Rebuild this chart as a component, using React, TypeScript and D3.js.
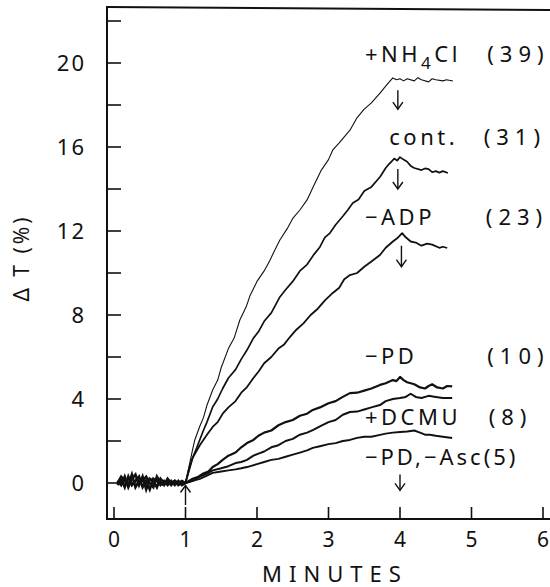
import React, { useEffect, useRef } from 'react';
import * as d3 from 'd3';

type Pt = [number, number];

// minutes, delta T (%)
const nh4cl: Pt[] = [
  [1.0, 0], [1.05, 0.8], [1.1, 1.6], [1.13, 2.05], [1.2, 2.7], [1.25, 3.1], [1.3, 3.7], [1.38, 4.43],
  [1.45, 4.9], [1.5, 5.5], [1.6, 6.4], [1.68, 6.9], [1.76, 7.76], [1.85, 8.4], [1.9, 8.9], [2.0, 9.6],
  [2.1, 10.1], [2.18, 10.6], [2.25, 11.1], [2.32, 11.57], [2.42, 12.1], [2.5, 12.6], [2.6, 13.0],
  [2.7, 13.48], [2.8, 14.2], [2.9, 14.9], [3.0, 15.4], [3.06, 15.86], [3.15, 16.2], [3.2, 16.4],
  [3.3, 16.8], [3.4, 17.4], [3.5, 17.8], [3.6, 18.1], [3.72, 18.57], [3.8, 18.9], [3.85, 19.1],
  [3.9, 19.29], [3.95, 19.2], [4.0, 19.25], [4.05, 19.15], [4.1, 19.25], [4.2, 19.15], [4.25, 19.3],
  [4.3, 19.2], [4.4, 19.1], [4.45, 19.25], [4.5, 19.2], [4.6, 19.15], [4.65, 19.2], [4.74, 19.14],
];
const control: Pt[] = [
  [1.0, 0], [1.05, 0.7], [1.1, 1.2], [1.16, 1.7], [1.25, 2.5], [1.3, 2.9], [1.38, 3.62], [1.45, 4.0],
  [1.52, 4.5], [1.6, 5.0], [1.7, 5.4], [1.78, 5.9], [1.86, 6.33], [1.95, 6.9], [2.02, 7.2], [2.1, 7.7],
  [2.2, 8.1], [2.32, 8.86], [2.4, 9.2], [2.5, 9.6], [2.6, 10.1], [2.7, 10.4], [2.8, 10.9], [2.88, 11.24],
  [2.95, 11.7], [3.02, 11.9], [3.1, 12.3], [3.2, 12.7], [3.27, 13.0], [3.34, 13.33], [3.42, 13.5],
  [3.5, 13.9], [3.6, 14.1], [3.72, 14.57], [3.8, 15.0], [3.85, 15.2], [3.92, 15.45], [3.96, 15.35],
  [4.0, 15.52], [4.05, 15.4], [4.1, 15.3], [4.15, 15.1], [4.2, 15.0], [4.3, 14.9], [4.35, 14.98],
  [4.4, 14.95], [4.45, 14.8], [4.5, 14.85], [4.55, 14.78], [4.6, 14.85], [4.67, 14.76],
];
const noAdp: Pt[] = [
  [1.0, 0], [1.05, 0.6], [1.1, 1.2], [1.2, 1.8], [1.3, 2.3], [1.38, 2.67], [1.45, 2.9], [1.52, 3.3],
  [1.6, 3.6], [1.7, 3.9], [1.78, 4.3], [1.86, 4.57], [1.95, 5.0], [2.02, 5.3], [2.1, 5.7], [2.2, 6.0],
  [2.3, 6.4], [2.38, 6.6], [2.46, 6.95], [2.55, 7.3], [2.65, 7.6], [2.75, 8.0], [2.85, 8.3],
  [2.95, 8.7], [3.06, 9.05], [3.15, 9.3], [3.22, 9.7], [3.3, 9.9], [3.4, 10.0], [3.5, 10.3],
  [3.6, 10.55], [3.72, 10.86], [3.8, 11.2], [3.9, 11.5], [3.96, 11.65], [4.03, 11.9], [4.08, 11.7],
  [4.15, 11.5], [4.22, 11.45], [4.3, 11.3], [4.38, 11.4], [4.45, 11.35], [4.55, 11.2], [4.6, 11.25],
  [4.66, 11.19],
];
const noPd: Pt[] = [
  [1.0, 0], [1.1, 0.2], [1.18, 0.3], [1.25, 0.45], [1.32, 0.55], [1.38, 0.76], [1.45, 0.9],
  [1.52, 1.1], [1.6, 1.3], [1.7, 1.45], [1.78, 1.7], [1.86, 1.9], [1.95, 2.05], [2.02, 2.25],
  [2.1, 2.4], [2.2, 2.5], [2.3, 2.75], [2.4, 2.9], [2.5, 3.0], [2.6, 3.2], [2.7, 3.3], [2.78, 3.48],
  [2.88, 3.6], [3.0, 3.8], [3.1, 3.9], [3.2, 4.1], [3.3, 4.28], [3.4, 4.3], [3.5, 4.4], [3.6, 4.5],
  [3.72, 4.67], [3.8, 4.75], [3.9, 4.9], [3.95, 4.85], [4.0, 5.05], [4.05, 4.9], [4.1, 4.8],
  [4.2, 4.7], [4.28, 4.55], [4.35, 4.5], [4.4, 4.62], [4.45, 4.7], [4.52, 4.55], [4.6, 4.5],
  [4.66, 4.62], [4.73, 4.6],
];
const dcmu: Pt[] = [
  [1.0, 0], [1.1, 0.1], [1.2, 0.3], [1.3, 0.45], [1.38, 0.6], [1.5, 0.7], [1.6, 0.8], [1.7, 0.95],
  [1.78, 1.0], [1.86, 1.1], [1.95, 1.3], [2.02, 1.4], [2.1, 1.5], [2.2, 1.7], [2.3, 1.8], [2.4, 2.0],
  [2.5, 2.1], [2.6, 2.3], [2.7, 2.4], [2.78, 2.52], [2.88, 2.7], [3.0, 2.9], [3.1, 3.0], [3.2, 3.25],
  [3.3, 3.38], [3.4, 3.4], [3.5, 3.5], [3.6, 3.6], [3.72, 3.71], [3.8, 3.9], [3.9, 4.0], [4.0, 4.05],
  [4.08, 4.1], [4.15, 4.25], [4.22, 4.1], [4.3, 4.05], [4.4, 4.15], [4.5, 4.1], [4.6, 4.05],
  [4.73, 4.05],
];
const noPdAsc: Pt[] = [
  [1.0, 0], [1.1, 0.1], [1.2, 0.2], [1.3, 0.35], [1.38, 0.48], [1.5, 0.55], [1.6, 0.6], [1.7, 0.65],
  [1.78, 0.7], [1.86, 0.76], [2.0, 0.9], [2.1, 1.0], [2.2, 1.1], [2.3, 1.15], [2.4, 1.25],
  [2.5, 1.35], [2.6, 1.45], [2.7, 1.55], [2.78, 1.67], [2.88, 1.75], [3.0, 1.85], [3.1, 1.9],
  [3.2, 2.0], [3.3, 2.05], [3.4, 2.15], [3.5, 2.2], [3.6, 2.2], [3.72, 2.29], [3.8, 2.35],
  [3.9, 2.4], [4.0, 2.43], [4.1, 2.45], [4.2, 2.5], [4.28, 2.4], [4.35, 2.3], [4.42, 2.3],
  [4.5, 2.25], [4.6, 2.2], [4.73, 2.14],
];

// noisy pre-illumination traces (0 to 1 min)
const baseA: Pt[] = [
  [0.05, 0.1], [0.1, -0.1], [0.15, 0.3], [0.2, -0.2], [0.25, 0.2], [0.3, 0.4], [0.35, -0.1],
  [0.4, 0.3], [0.45, -0.3], [0.5, 0.2], [0.55, 0.1], [0.6, -0.2], [0.65, 0.2], [0.7, 0.0],
  [0.75, 0.1], [0.8, -0.1], [0.85, 0.1], [0.9, 0.0], [0.95, 0.1], [1.0, 0],
];
const baseB: Pt[] = [
  [0.05, -0.1], [0.1, 0.2], [0.15, -0.2], [0.2, 0.3], [0.25, -0.1], [0.3, 0.1], [0.35, 0.3],
  [0.4, -0.2], [0.45, 0.1], [0.5, -0.3], [0.55, 0.2], [0.6, 0.1], [0.65, -0.1], [0.7, 0.1],
  [0.75, -0.1], [0.8, 0.1], [0.85, -0.1], [0.9, 0.1], [0.95, -0.1], [1.0, 0],
];
const baseC: Pt[] = [
  [0.05, 0.0], [0.1, 0.3], [0.15, 0.1], [0.2, -0.1], [0.25, 0.4], [0.3, -0.2], [0.35, 0.1],
  [0.4, 0.1], [0.45, 0.3], [0.5, 0.0], [0.55, -0.2], [0.6, 0.3], [0.65, 0.0], [0.7, -0.1],
  [0.75, 0.2], [0.8, 0.0], [0.85, 0.1], [0.9, -0.1], [0.95, 0.0], [1.0, 0],
];

const SERIES = [nh4cl, control, noAdp, noPd, dcmu, noPdAsc];
const WIDTHS = [1.1, 1.7, 1.8, 2.2, 2.0, 1.9];

const labelNames = ['+NH4Cl', 'cont.', '\u2212ADP', '\u2212PD', '+DCMU', '\u2212PD,\u2212Asc'];
const labelCounts = ['(39)', '(31)', '(23)', '(10)', '(8)', '(5)'];
const labelX = [3.51, 3.85, 3.51, 3.51, 3.51, 3.51];
const labelY = [20.05, 16.1, 12.29, 5.67, 2.76, 0.86];
const countX = [5.22, 5.17, 5.2, 5.22, 5.24, 0];

// arrows: [minute, tail value, tip value]
const downArrows: [number, number, number][] = [
  [3.97, 18.7, 17.8],
  [3.97, 14.95, 14.0],
  [4.02, 11.3, 10.3],
  [4.0, 0.4, -0.35],
];
const upArrow: [number, number, number] = [1.0, -1.05, -0.12];

const xTicks = [0, 1, 2, 3, 4, 5, 6];
const yTicks = [0, 2, 4, 6, 8, 10, 12, 14, 16, 18, 20, 22];
const yLabels = [0, 4, 8, 12, 16, 20];

const FONT = "'Noto Sans', 'DejaVu Sans', sans-serif";
const INK = '#111';

export default function App() {
  const ref = useRef<SVGSVGElement | null>(null);

  useEffect(() => {
    const el = ref.current;
    if (!el) return;
    const svg = d3.select(el);
    svg.selectAll('*').remove();

    const width = 550;
    const height = 587;
    const axisX = 107;
    const axisY = 519;
    const topY = 7;

    const x = d3.scaleLinear().domain([0, 6]).range([114, 543]);
    const y = d3.scaleLinear().domain([0, 20]).range([483, 63]);

    svg.attr('width', width).attr('height', height).attr('viewBox', `0 0 ${width} ${height}`);
    svg.append('rect').attr('width', width).attr('height', height).attr('fill', '#fff');

    // frame
    const frame = svg.append('g').attr('stroke', INK).attr('stroke-width', 2).attr('fill', 'none');
    frame.append('line').attr('x1', axisX).attr('x2', axisX).attr('y1', topY - 1).attr('y2', axisY + 1);
    frame.append('line').attr('x1', axisX).attr('x2', width).attr('y1', axisY).attr('y2', axisY);
    frame.append('line').attr('x1', axisX).attr('x2', width).attr('y1', topY).attr('y2', topY + 3);

    // y ticks (inward)
    svg
      .append('g')
      .selectAll('line')
      .data(yTicks)
      .enter()
      .append('line')
      .attr('x1', axisX)
      .attr('x2', axisX + 14)
      .attr('y1', d => y(d))
      .attr('y2', d => y(d))
      .attr('stroke', INK)
      .attr('stroke-width', 1.6);

    svg
      .append('g')
      .selectAll('text')
      .data(yLabels)
      .enter()
      .append('text')
      .attr('x', 86)
      .attr('y', d => y(d) + 8)
      .attr('text-anchor', 'end')
      .attr('font-family', FONT)
      .attr('font-size', 22)
      .attr('letter-spacing', 2)
      .attr('fill', INK)
      .text(d => String(d));

    // x ticks (inward)
    svg
      .append('g')
      .selectAll('line')
      .data(xTicks)
      .enter()
      .append('line')
      .attr('x1', d => x(d))
      .attr('x2', d => x(d))
      .attr('y1', axisY)
      .attr('y2', axisY - 12)
      .attr('stroke', INK)
      .attr('stroke-width', 1.6);

    svg
      .append('g')
      .selectAll('text')
      .data(xTicks)
      .enter()
      .append('text')
      .attr('x', d => x(d))
      .attr('y', 547)
      .attr('text-anchor', 'middle')
      .attr('font-family', FONT)
      .attr('font-size', 21)
      .attr('fill', INK)
      .text(d => String(d));

    svg
      .append('text')
      .attr('x', 335)
      .attr('y', 582)
      .attr('text-anchor', 'middle')
      .attr('font-family', FONT)
      .attr('font-size', 22)
      .attr('letter-spacing', 7)
      .attr('fill', INK)
      .text('MINUTES');

    svg
      .append('text')
      .attr('transform', 'translate(29,258) rotate(-90)')
      .attr('text-anchor', 'middle')
      .attr('font-family', FONT)
      .attr('font-size', 21)
      .attr('letter-spacing', 3)
      .attr('fill', INK)
      .text('\u0394 T (%)');

    const line = d3
      .line<Pt>()
      .x(d => x(d[0]))
      .y(d => y(d[1]));

    // baseline noise
    const baseG = svg.append('g').attr('fill', 'none').attr('stroke', INK).attr('stroke-width', 2.6);
    [baseA, baseB, baseC].forEach(b => {
      baseG.append('path').attr('d', line(b) ?? '');
    });

    // traces
    const traceG = svg.append('g').attr('fill', 'none').attr('stroke', INK).attr('stroke-linejoin', 'round');
    SERIES.forEach((s, i) => {
      traceG.append('path').attr('d', line(s) ?? '').attr('stroke-width', WIDTHS[i]);
    });

    // labels
    const lab = svg.append('g').attr('font-family', FONT).attr('font-size', 22).attr('fill', INK);
    labelNames.forEach((name, i) => {
      const t = lab
        .append('text')
        .attr('x', x(labelX[i]))
        .attr('y', y(labelY[i]))
        .attr('letter-spacing', 3.5);
      if (name === '+NH4Cl') {
        t.append('tspan').text('+NH');
        t.append('tspan').attr('dy', 7).attr('font-size', 17).text('4');
        t.append('tspan').attr('dy', -7).text('Cl');
      } else if (i === labelNames.length - 1) {
        // last label runs straight into its count
        t.attr('letter-spacing', 3).text(name + labelCounts[i]);
        return;
      } else {
        t.text(name);
      }
      lab
        .append('text')
        .attr('x', x(countX[i]))
        .attr('y', y(labelY[i]))
        .attr('letter-spacing', 6)
        .text(labelCounts[i]);
    });

    // arrows
    const arrowG = svg.append('g').attr('stroke', INK).attr('stroke-width', 1.4).attr('fill', 'none');
    const drawArrow = (a: [number, number, number]) => {
      const ax = x(a[0]);
      const tail = y(a[1]);
      const tip = y(a[2]);
      const dir = tip > tail ? -1 : 1;
      arrowG.append('line').attr('x1', ax).attr('x2', ax).attr('y1', tail).attr('y2', tip);
      arrowG
        .append('path')
        .attr('d', `M${ax - 5},${tip + dir * 7} L${ax},${tip} L${ax + 5},${tip + dir * 7}`);
    };
    downArrows.forEach(drawArrow);
    drawArrow(upArrow);
  }, []);

  return (
    <div style={{ position: 'absolute', left: 0, top: 0 }}>
      <svg ref={ref} style={{ display: 'block' }} />
    </div>
  );
}
